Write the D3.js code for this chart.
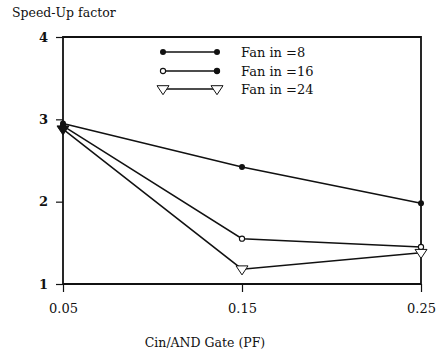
<!DOCTYPE html>
<html>
<head>
<meta charset="utf-8">
<script src="https://cdn.jsdelivr.net/npm/d3@7"></script>
<style>
  html, body { margin: 0; padding: 0; background: #fff; }
  svg { display: block; }
  text { font-family: "DejaVu Serif", "Liberation Serif", serif; fill: #111; }
</style>
</head>
<body>
<svg id="chart" width="438" height="355"></svg>
<script>
// Load capacitance per AND gate (pF)
const cin = [0.05, 0.15, 0.25];
// Speed-up factor for each fan-in
const fanIn8  = [2.95, 2.42, 1.98];
const fanIn16 = [2.92, 1.55, 1.45];
const fanIn24 = [2.88, 1.18, 1.38];
const yTicks = [1, 2, 3, 4];
const xTickLabels = ["0.05", "0.15", "0.25"];
const seriesNames = ["Fan in =8", "Fan in =16", "Fan in =24"];

const svg = d3.select("#chart");
const x = d3.scaleLinear().domain([0.05, 0.25]).range([63, 421]);
const y = d3.scaleLinear().domain([1, 4]).range([284, 37]);
const ink = "#111";
const serif = "'DejaVu Serif', 'Liberation Serif', serif";

// Plot frame
svg.append("path")
  .attr("d", `M${x(0.05)},${y(4)}H${x(0.25)}V${y(1)}H${x(0.05)}Z`)
  .attr("fill", "none").attr("stroke", ink).attr("stroke-width", 1.8);

// Y axis: ticks to the left, labels
const yAxis = d3.axisLeft(y).tickValues(yTicks).tickFormat(d3.format("d"))
  .tickSizeInner(7).tickSizeOuter(0).tickPadding(8);
const gy = svg.append("g").attr("transform", `translate(${x(0.05)},0)`).call(yAxis);
gy.select(".domain").remove();
gy.selectAll("line").attr("stroke", ink).attr("stroke-width", 1.2);
gy.selectAll("text").attr("font-size", 13).attr("font-weight", "bold")
  .style("font-family", serif);

// X axis: ticks below, labels
const xAxis = d3.axisBottom(x).tickValues(cin).tickFormat((d, i) => xTickLabels[i])
  .tickSizeInner(8).tickSizeOuter(0).tickPadding(12);
const gx = svg.append("g").attr("transform", `translate(0,${y(1)})`).call(xAxis);
gx.select(".domain").remove();
gx.selectAll("line").attr("stroke", ink).attr("stroke-width", 1.2);
gx.selectAll("text").attr("font-size", 13)
  .style("font-family", serif);

// Axis titles
svg.append("text").attr("x", 12).attr("y", 17).attr("font-size", 12.5)
  .text("Speed-Up factor");
svg.append("text").attr("x", 205).attr("y", 347).attr("font-size", 12.5)
  .attr("text-anchor", "middle").text("Cin/AND Gate (PF)");

const line = d3.line().x((d, i) => x(cin[i])).y(d => y(d));

const series = [
  { values: fanIn8,  marker: "dot" },
  { values: fanIn16, marker: "ring" },
  { values: fanIn24, marker: "tri" }
];

function drawMarker(g, type, cx, cy, filled) {
  if (type === "dot") {
    g.append("circle").attr("cx", cx).attr("cy", cy).attr("r", 3)
      .attr("fill", ink);
  } else if (type === "ring") {
    g.append("circle").attr("cx", cx).attr("cy", cy).attr("r", 2.6)
      .attr("fill", filled ? ink : "#fff").attr("stroke", ink).attr("stroke-width", 1.1);
  } else {
    const s = 6;
    g.append("path")
      .attr("d", `M${cx - s},${cy - s * 0.55}L${cx + s},${cy - s * 0.55}L${cx},${cy + s * 0.95}Z`)
      .attr("fill", filled ? ink : "#fff").attr("stroke", ink).attr("stroke-width", 1);
  }
}

// Series lines and markers
series.forEach(s => {
  svg.append("path").datum(s.values).attr("d", line)
    .attr("fill", "none").attr("stroke", ink).attr("stroke-width", 1.5);
});
series.forEach(s => {
  const g = svg.append("g");
  s.values.forEach((v, i) => drawMarker(g, s.marker, x(cin[i]), y(v), i === 0));
});

// Legend
const legY = [52, 71, 89];
series.forEach((s, i) => {
  const g = svg.append("g");
  g.append("line").attr("x1", 163).attr("x2", 217).attr("y1", legY[i]).attr("y2", legY[i])
    .attr("stroke", ink).attr("stroke-width", 1.3);
  drawMarker(g, s.marker, 163, legY[i], false);
  drawMarker(g, s.marker, 217, legY[i], s.marker === "ring");
  g.append("text").attr("x", 241).attr("y", legY[i] + 4.5).attr("font-size", 13)
    .text(seriesNames[i]);
});
</script>
</body>
</html>
